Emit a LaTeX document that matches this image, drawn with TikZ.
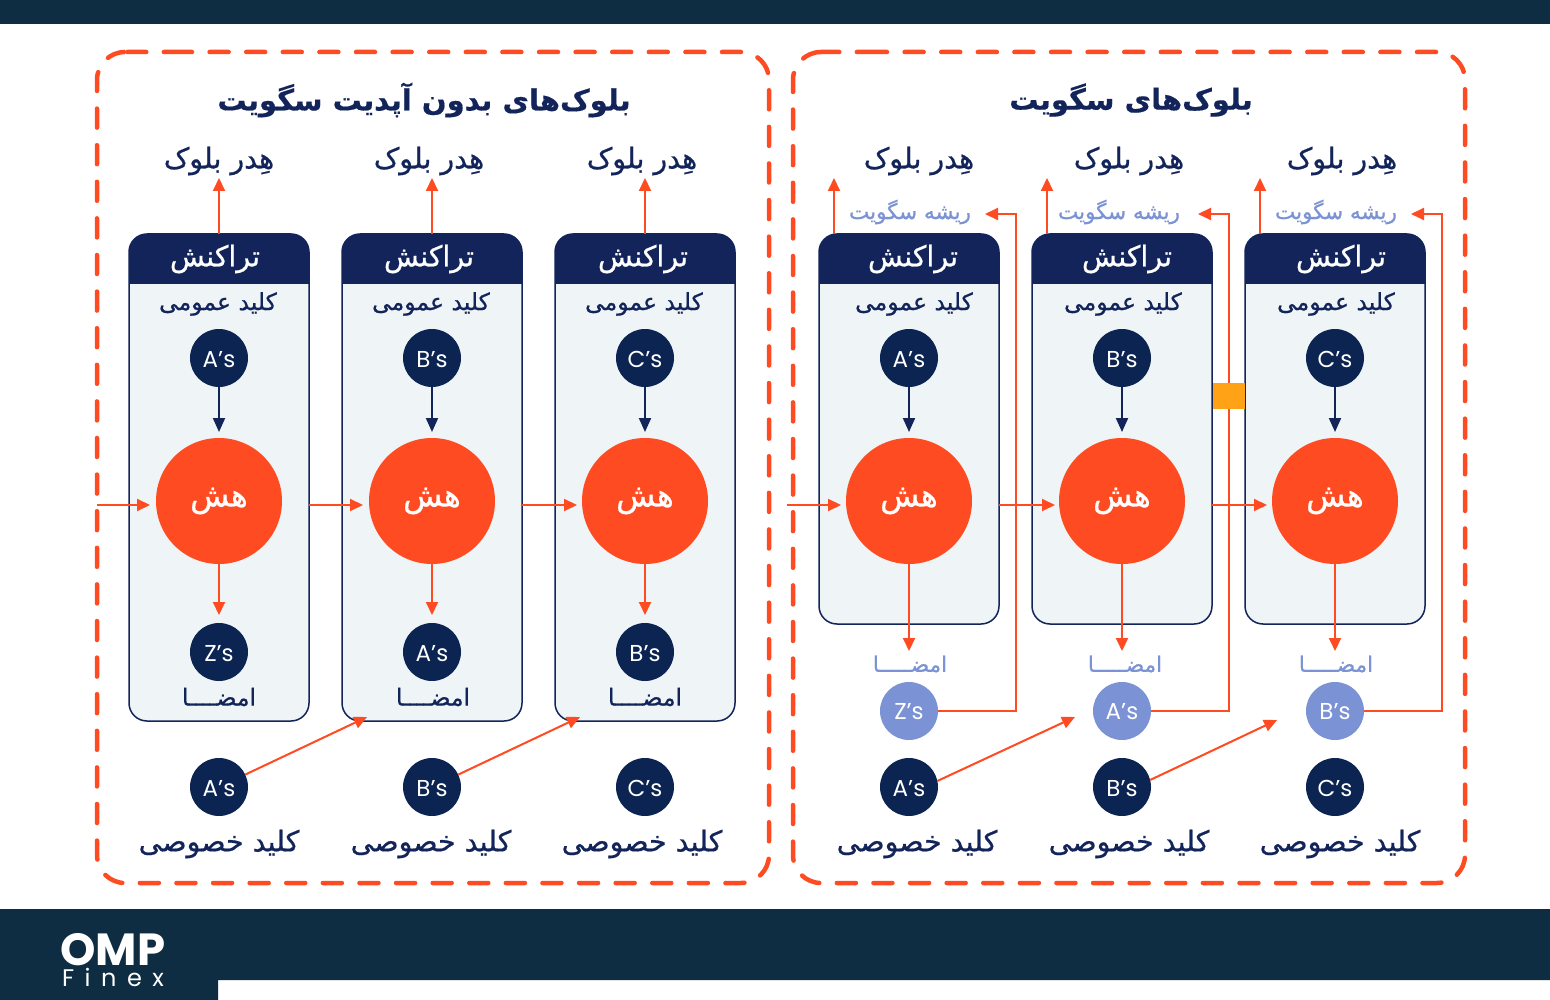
\documentclass[tikz,border=0pt]{standalone}
\usepackage{fontspec}
\usetikzlibrary{arrows.meta}
\TeXXeTstate=1
\newfontfamily\arabicfont[Script=Arabic,RawFeature={embolden=0.7}]{DejaVu Sans}
\newfontfamily\arabicbold[Script=Arabic,RawFeature={embolden=0.4}]{DejaVu Sans Bold}
\newfontfamily\labelfont{Poppins}
\newfontfamily\finexfont[LetterSpace=44]{Poppins}
\newcommand{\fa}[1]{\beginR#1\endR}
\tikzset{
    frame/.style={draw=redorange, line width=4.5pt, line cap=round, rounded corners=28pt, dash pattern=on 19pt off 17.6pt},
    card/.style={draw=navy, fill=cardfill, line width=1.5pt, rounded corners=18pt, minimum width=180pt, inner sep=0pt, outer sep=0pt},
    cardhead/.style={fill=navy},
    pubkey/.style={circle, fill=darknavy, text=white, minimum size=58pt, inner sep=0pt, outer sep=0pt, text height=18pt, text depth=0pt, font=\labelfont\fontsize{23}{26}\selectfont},
    sigkey/.style={pubkey, fill=paleblue, text height=16.5pt},
    hash/.style={circle, fill=redorange, text=white, minimum size=126pt, inner sep=0pt, outer sep=0pt, font=\arabicfont\fontsize{32}{34}\selectfont},
    titletext/.style={text=navy, inner sep=0pt, font=\arabicbold\fontsize{29}{32}\selectfont},
    bigtext/.style={text=navy, inner sep=0pt, font=\arabicfont\fontsize{28.5}{30}\selectfont},
    headtext/.style={text=white, inner sep=0pt, font=\arabicfont\fontsize{28.5}{30}\selectfont},
    smalltext/.style={text=navy, inner sep=0pt, font=\arabicfont\fontsize{23.5}{28}\selectfont},
    bluetext/.style={text=paleblue, inner sep=0pt, font=\arabicfont\fontsize{21.5}{26}\selectfont},
    redarrow/.style={draw=redorange, line width=2pt, -{Triangle[length=13pt,width=12pt]}},
    navyarrow/.style={draw=navy, line width=2pt, -{Triangle[length=14pt,width=12pt]}, shorten >=6pt}
}

\begin{document}
\begin{tikzpicture}[x=1pt, y=-1pt]

    % Цвета
    \definecolor{redorange}{RGB}{255,75,33}
    \definecolor{navy}{RGB}{18,36,90}
    \definecolor{darknavy}{RGB}{12,36,82}
    \definecolor{cardfill}{RGB}{239,244,246}
    \definecolor{paleblue}{RGB}{123,146,212}
    \definecolor{barcolor}{RGB}{15,45,66}
    \definecolor{patchcolor}{RGB}{255,162,22}

    \useasboundingbox (0,0) rectangle (1550,1000);
    \fill[white] (0,0) rectangle (1550,1000);

    % Верхняя и нижняя полосы
    \fill[barcolor] (0,0) rectangle (1550,24);
    \fill[barcolor] (0,909) -- (1550,909) -- (1550,980) -- (218,980) -- (218,1000) -- (0,1000) -- cycle;

    % Логотип
    \node[anchor=south, text=white, inner sep=0pt, text height=33pt, text depth=0pt, font=\labelfont\bfseries\fontsize{45}{50}\selectfont] (logoTop) at (113,966) {OMP};
    \node[anchor=south, text=white, inner sep=0pt, text height=18pt, text depth=0pt, font=\finexfont\fontsize{24}{28}\selectfont] (logoBottom) at (113,987) {Finex};

    % Пунктирные рамки
    \draw[frame] (145,52) -- (769,52) -- (769,883) -- (97,883) -- (97,52) -- cycle;
    \draw[frame] (840,52) -- (1465,52) -- (1465,883) -- (793,883) -- (793,52) -- cycle;

    % Заголовки рамок
    \node[titletext] (titleLeft) at (424,100) {\fa{بلوک‌های بدون آپدیت سگویت}};
    \node[titletext] (titleRight) at (1131,100) {\fa{بلوک‌های سگویت}};

    % Карточки слева
    \node[card, minimum height=487pt] (cardA) at (219,477.5) {};
    \node[card, minimum height=487pt] (cardB) at (432,477.5) {};
    \node[card, minimum height=487pt] (cardC) at (645,477.5) {};

    % Карточки справа
    \node[card, minimum height=390pt] (cardD) at (909,429) {};
    \node[card, minimum height=390pt] (cardE) at (1122,429) {};
    \node[card, minimum height=390pt] (cardF) at (1335,429) {};

    % Шапки карточек
    \fill[cardhead] (129,284) [rounded corners=18pt] -- (129,234) -- (309,234) [sharp corners] -- (309,284) -- cycle;
    \fill[cardhead] (342,284) [rounded corners=18pt] -- (342,234) -- (522,234) [sharp corners] -- (522,284) -- cycle;
    \fill[cardhead] (555,284) [rounded corners=18pt] -- (555,234) -- (735,234) [sharp corners] -- (735,284) -- cycle;
    \fill[cardhead] (819,284) [rounded corners=18pt] -- (819,234) -- (999,234) [sharp corners] -- (999,284) -- cycle;
    \fill[cardhead] (1032,284) [rounded corners=18pt] -- (1032,234) -- (1212,234) [sharp corners] -- (1212,284) -- cycle;
    \fill[cardhead] (1245,284) [rounded corners=18pt] -- (1245,234) -- (1425,234) [sharp corners] -- (1425,284) -- cycle;

    % Подписи в шапках
    \node[headtext] (headA) at (215,259) {\fa{تراکنش}};
    \node[headtext] (headB) at (429,259) {\fa{تراکنش}};
    \node[headtext] (headC) at (643,259) {\fa{تراکنش}};
    \node[headtext] (headD) at (913,259) {\fa{تراکنش}};
    \node[headtext] (headE) at (1127,259) {\fa{تراکنش}};
    \node[headtext] (headF) at (1341,259) {\fa{تراکنش}};

    % Заголовки блоков
    \node[bigtext] (blockA) at (219,161) {\fa{هِدر بلوک}};
    \node[bigtext] (blockB) at (429,161) {\fa{هِدر بلوک}};
    \node[bigtext] (blockC) at (642,161) {\fa{هِدر بلوک}};
    \node[bigtext] (blockD) at (919,161) {\fa{هِدر بلوک}};
    \node[bigtext] (blockE) at (1129,161) {\fa{هِدر بلوک}};
    \node[bigtext] (blockF) at (1342,161) {\fa{هِدر بلوک}};

    % Подписи над открытыми ключами
    \node[smalltext] (pubtextA) at (218,304) {\fa{کلید عمومی}};
    \node[smalltext] (pubtextB) at (431,304) {\fa{کلید عمومی}};
    \node[smalltext] (pubtextC) at (644,304) {\fa{کلید عمومی}};
    \node[smalltext] (pubtextD) at (914,304) {\fa{کلید عمومی}};
    \node[smalltext] (pubtextE) at (1123,304) {\fa{کلید عمومی}};
    \node[smalltext] (pubtextF) at (1336,304) {\fa{کلید عمومی}};

    % Открытые ключи
    \node[pubkey] (pubA) at (219,358) {A’s};
    \node[pubkey] (pubB) at (432,358) {B’s};
    \node[pubkey] (pubC) at (645,358) {C’s};
    \node[pubkey] (pubD) at (909,358) {A’s};
    \node[pubkey] (pubE) at (1122,358) {B’s};
    \node[pubkey] (pubF) at (1335,358) {C’s};

    % Хеши
    \node[hash] (hashA) at (219,501) {\fa{هش}};
    \node[hash] (hashB) at (432,501) {\fa{هش}};
    \node[hash] (hashC) at (645,501) {\fa{هش}};
    \node[hash] (hashD) at (909,501) {\fa{هش}};
    \node[hash] (hashE) at (1122,501) {\fa{هش}};
    \node[hash] (hashF) at (1335,501) {\fa{هش}};

    % Подписи слева
    \node[pubkey] (sigA) at (219,652) {Z’s};
    \node[pubkey] (sigB) at (432,652) {A’s};
    \node[pubkey] (sigC) at (645,652) {B’s};
    \node[smalltext] (sigtextA) at (219,697) {\fa{امضــــا}};
    \node[smalltext] (sigtextB) at (433,697) {\fa{امضــــا}};
    \node[smalltext] (sigtextC) at (645,697) {\fa{امضــــا}};

    % Подписи справа
    \node[sigkey] (sigD) at (909,711) {Z’s};
    \node[sigkey] (sigE) at (1122,711) {A’s};
    \node[sigkey] (sigF) at (1335,711) {B’s};
    \node[bluetext] (sigtextD) at (910,664) {\fa{امضـــــا}};
    \node[bluetext] (sigtextE) at (1125,664) {\fa{امضـــــا}};
    \node[bluetext] (sigtextF) at (1336,664) {\fa{امضـــــا}};

    % Корень сегвита
    \node[bluetext] (rootA) at (910,212) {\fa{ریشه سگویت}};
    \node[bluetext] (rootB) at (1119,212) {\fa{ریشه سگویت}};
    \node[bluetext] (rootC) at (1336,212) {\fa{ریشه سگویت}};

    % Закрытые ключи
    \node[pubkey] (privA) at (219,787) {A’s};
    \node[pubkey] (privB) at (432,787) {B’s};
    \node[pubkey] (privC) at (645,787) {C’s};
    \node[pubkey] (privD) at (909,787) {A’s};
    \node[pubkey] (privE) at (1122,787) {B’s};
    \node[pubkey] (privF) at (1335,787) {C’s};

    % Подписи под закрытыми ключами
    \node[bigtext] (privtextA) at (219,844) {\fa{کلید خصوصی}};
    \node[bigtext] (privtextB) at (431,844) {\fa{کلید خصوصی}};
    \node[bigtext] (privtextC) at (642,844) {\fa{کلید خصوصی}};
    \node[bigtext] (privtextD) at (917,844) {\fa{کلید خصوصی}};
    \node[bigtext] (privtextE) at (1129,844) {\fa{کلید خصوصی}};
    \node[bigtext] (privtextF) at (1340,844) {\fa{کلید خصوصی}};

    % Свободные концы стрелок
    \coordinate (upA) at (219,178);
    \coordinate (upB) at (432,178);
    \coordinate (upC) at (645,178);
    \coordinate (upD) at (834,178);
    \coordinate (upE) at (1047,178);
    \coordinate (upF) at (1260,178);
    \coordinate (inLeft) at (97,505);
    \coordinate (inRight) at (787,505);
    \coordinate (tipA) at (150,505);
    \coordinate (tipB) at (363,505);
    \coordinate (tipC) at (577,505);
    \coordinate (tipD) at (841,505);
    \coordinate (tipE) at (1055,505);
    \coordinate (tipF) at (1267,505);
    \coordinate (signB) at (367,717);
    \coordinate (signC) at (580,717);
    \coordinate (signE) at (1075,717);
    \coordinate (signF) at (1277,720);
    \coordinate (turnA) at (1016,214);
    \coordinate (turnB) at (1229,214);
    \coordinate (turnC) at (1442,214);
    \coordinate (rootendA) at (985,214);
    \coordinate (rootendB) at (1198,214);
    \coordinate (rootendC) at (1411,214);
    \coordinate (downD) at (909,651);
    \coordinate (downE) at (1122,651);
    \coordinate (downF) at (1335,651);

    % Стрелки к заголовкам блоков
    \draw[redarrow] (cardA.north) -- (upA);
    \draw[redarrow] (cardB.north) -- (upB);
    \draw[redarrow] (cardC.north) -- (upC);
    \draw[redarrow] (upD |- cardD.north) -- (upD);
    \draw[redarrow] (upE |- cardE.north) -- (upE);
    \draw[redarrow] (upF |- cardF.north) -- (upF);

    % От ключа к хешу
    \draw[navyarrow] (pubA) -- (hashA);
    \draw[navyarrow] (pubB) -- (hashB);
    \draw[navyarrow] (pubC) -- (hashC);
    \draw[navyarrow] (pubD) -- (hashD);
    \draw[navyarrow] (pubE) -- (hashE);
    \draw[navyarrow] (pubF) -- (hashF);

    % От хеша к подписи
    \draw[redarrow, shorten >=8pt] (hashA) -- (sigA);
    \draw[redarrow, shorten >=8pt] (hashB) -- (sigB);
    \draw[redarrow, shorten >=8pt] (hashC) -- (sigC);
    \draw[redarrow] (hashD) -- (downD);
    \draw[redarrow] (hashE) -- (downE);
    \draw[redarrow] (hashF) -- (downF);

    % Горизонтальные стрелки
    \draw[redarrow] (inLeft) -- (tipA);
    \draw[redarrow] (cardA.east |- tipB) -- (tipB);
    \draw[redarrow] (cardB.east |- tipC) -- (tipC);
    \draw[redarrow] (inRight) -- (tipD);
    \draw[redarrow] (cardD.east |- tipE) -- (tipE);
    \draw[redarrow] (cardE.east |- tipF) -- (tipF);

    % От закрытого ключа к подписи
    \draw[redarrow] (privA) -- (signB);
    \draw[redarrow] (privB) -- (signC);
    \draw[redarrow] (privD.12) -- (signE);
    \draw[redarrow] (privE.14) -- (signF);

    % От подписи к корню сегвита
    \draw[redarrow] (sigD) -| (turnA) -- (rootendA);
    \draw[redarrow] (sigE) -| (turnB) -- (rootendB);
    \draw[redarrow] (sigF) -| (turnC) -- (rootendC);

    % Оранжевая вставка
    \node[fill=patchcolor, minimum width=32pt, minimum height=26pt, inner sep=0pt] (patch) at (1229,396) {};

\end{tikzpicture}
\end{document}
